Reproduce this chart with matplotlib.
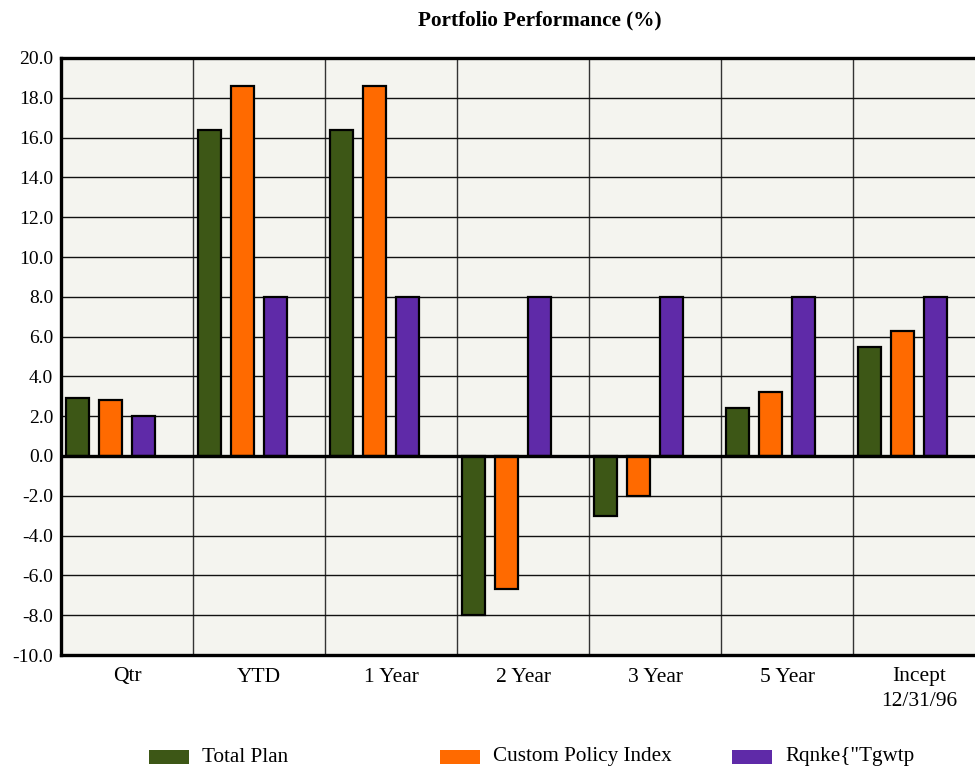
import matplotlib
matplotlib.use("Agg")
import matplotlib.pyplot as plt
from matplotlib.patches import Rectangle
import numpy as np

categories = ["Qtr", "YTD", "1 Year", "2 Year", "3 Year", "5 Year", "Incept\n12/31/96"]
total_plan = [2.9, 16.4, 16.4, -8.0, -3.0, 2.4, 5.5]
custom_policy = [2.8, 18.6, 18.6, -6.7, -2.0, 3.2, 6.3]
policy_return = [2.0, 8.0, 8.0, 8.0, 8.0, 8.0, 8.0]
series_names = ["Total Plan", "Custom Policy Index", "Rqnke{\"Tgwtp"]
colors = ["#3d5716", "#ff6a00", "#5f2aa8"]
yticks = [20.0, 18.0, 16.0, 14.0, 12.0, 10.0, 8.0, 6.0, 4.0, 2.0, 0.0,
          -2.0, -4.0, -6.0, -8.0, -10.0]

plt.rcParams['font.family'] = ['Liberation Serif', 'DejaVu Serif']

fig = plt.figure(figsize=(9.75, 7.68), dpi=100)
fig.patch.set_facecolor("white")
W, H = 975, 768
ax = fig.add_axes([61 / W, (H - 655) / H, (985 - 61) / W, (655 - 58) / H])
ax.set_facecolor("#f4f4ef")

x = np.arange(len(categories))
offsets = [0.125, 0.375, 0.625]
width = 0.175
for s, (vals, col) in enumerate(zip([total_plan, custom_policy, policy_return], colors)):
    ax.bar(x + offsets[s], vals, width=width, color=col, edgecolor="black",
           linewidth=1.6, zorder=3)

ax.set_xlim(0, len(categories))
ax.set_ylim(-10, 20)
ax.set_yticks(yticks)
ax.set_yticklabels([f"{v:.1f}" for v in yticks], fontsize=14)
ax.set_xticks(x + 0.5)
ax.set_xticklabels(categories, fontsize=15.5, linespacing=1.4)
ax.set_xticks(np.arange(1, len(categories)), minor=True)
ax.tick_params(axis="both", which="both", length=0)
ax.tick_params(axis="y", pad=5.5)
ax.tick_params(axis="x", pad=9)
ax.grid(axis="y", which="major", color="#111111", linewidth=1.0, zorder=1)
ax.grid(axis="x", which="minor", color="#333333", linewidth=1.0, zorder=1)
ax.grid(axis="x", which="major", visible=False)
ax.axhline(0, color="black", linewidth=2.4, zorder=4)
for sp in ["left", "bottom", "top"]:
    ax.spines[sp].set_linewidth(2.4)
ax.spines["right"].set_visible(False)

fig.text(540 / W, 1 - 20 / H, "Portfolio Performance (%)", ha="center", va="center",
         fontsize=15.3, fontweight="bold")

legend_x = [149, 440, 732]
for lx, name, col in zip(legend_x, series_names, colors):
    fig.patches.append(Rectangle((lx / W, 1 - 764 / H), 40 / W, 14 / H,
                                 transform=fig.transFigure, facecolor=col,
                                 edgecolor="none"))
    fig.text((lx + 53) / W, 1 - 757 / H, name, ha="left", va="center", fontsize=15.2)

fig.savefig("out.png", dpi=100)
